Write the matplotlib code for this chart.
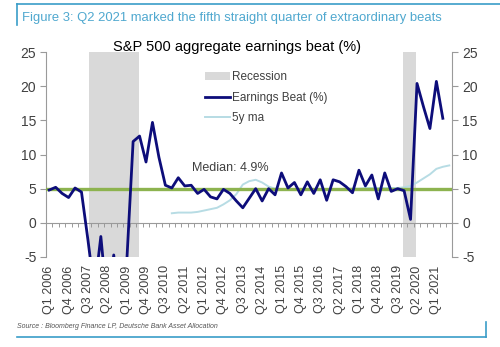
import numpy as np
import matplotlib
matplotlib.use("Agg")
import matplotlib.pyplot as plt
from matplotlib.lines import Line2D
from matplotlib.patches import Patch

plt.rcParams['font.family'] = ['Liberation Sans', 'DejaVu Sans']
plt.rcParams['axes.unicode_minus'] = False

# quarters Q1 2006 .. Q3 2021
quarters = [f"Q{q} {y}" for y in range(2006, 2022) for q in range(1, 5)][:63]

beat = [4.8, 5.2, 4.3, 3.7, 5.1, 4.5, -2.5, -10.0, -2.0, -12.0,
        -4.7, -15.0, -6.0, 11.9, 12.7, 8.9, 14.7, 9.6, 5.5, 5.1,
        6.6, 5.4, 5.5, 4.3, 4.9, 3.8, 3.5, 4.9, 4.3, 3.2,
        2.2, 3.6, 5.0, 3.2, 5.0, 4.1, 7.3, 5.1, 5.9, 4.1,
        6.0, 4.3, 6.3, 3.3, 6.3, 6.0, 5.3, 4.4, 7.7, 5.4,
        7.0, 3.5, 7.3, 4.6, 5.0, 4.7, 0.5, 20.4, 17.0, 13.8,
        20.7, 15.3, np.nan]

ma5 = [np.nan] * 19 + [
    1.4, 1.5, 1.5, 1.5, 1.6, 1.8, 2.0, 2.2, 2.7, 3.3,
    4.2, 5.6, 6.1, 6.3, 5.9, 5.3, 5.0, 4.9, 4.9, 4.8,
    4.8, 4.8, 4.9, 4.8, 4.8, 4.9, 4.9, 5.0, 5.0, 5.0,
    5.1, 5.1, 5.1, 5.1, 5.1, 5.1, 5.2, 5.4, 5.9, 6.5,
    7.1, 7.9, 8.2, 8.4]

median = 4.9
# recession spans in quarter units (Q4 2007 - Q2 2009, Q1 2020 - Q2 2020)
rec_start = [6.2, 54.9]
rec_end = [13.9, 56.8]

x = np.arange(len(quarters))

fig = plt.figure(figsize=(5, 3.47), dpi=100)
ax = fig.add_axes([0.092, 0.2594, 0.813, 0.5907])

for s, e in zip(rec_start, rec_end):
    ax.axvspan(s, e, color='#D9D9D9', lw=0, zorder=0)

ax.plot(x, ma5, color='#B7DCE4', lw=1.4, zorder=2)
ax.axhline(median, color='#8DB34F', lw=2.4, zorder=3)
ax.plot(x, beat, color='#0D0D7A', lw=2.0, zorder=4)

ax.set_xlim(-0.5, 62.5)
ax.set_ylim(-5, 25)

gray = '#9A9A9A'
ax.spines['top'].set_visible(False)
ax.spines['bottom'].set_position(('data', 0))
for sp in ['left', 'right', 'bottom']:
    ax.spines[sp].set_color(gray)
    ax.spines[sp].set_linewidth(0.8)

ax.set_yticks(range(-5, 30, 5))
ax.tick_params(axis='y', which='both', left=True, right=True,
               labelleft=True, labelright=True, direction='out',
               length=4, color=gray, labelsize=10, labelcolor='#404040', pad=3)
ax.set_xticks(np.arange(-0.5, 63, 1))
ax.set_xticklabels([])
ax.tick_params(axis='x', direction='out', length=3, color=gray, width=0.7)

sec = ax.secondary_xaxis('bottom')
sec.set_xticks(x[::3])
sec.set_xticklabels(quarters[::3], rotation=90)
sec.tick_params(length=0, pad=6, labelsize=9, labelcolor='#404040')
sec.spines['bottom'].set_visible(False)

ax.text(28, 8.0, f"Median: {median}%", ha='center', va='center',
        fontsize=9, color='#404040')

handles = [Patch(facecolor='#D9D9D9', edgecolor='none'),
           Line2D([], [], color='#0D0D7A', lw=2.0),
           Line2D([], [], color='#B7DCE4', lw=1.4)]
ax.legend(handles, ['Recession', 'Earnings Beat (%)', '5y ma'],
          loc='upper left', bbox_to_anchor=(0.391, 0.905), frameon=False,
          fontsize=8.5, handlelength=2.1, handletextpad=0.15,
          labelspacing=0.7, borderpad=0, borderaxespad=0,
          labelcolor='#404040')

fig.text(236.7 / 500, 1 - 47 / 347, "S&P 500 aggregate earnings beat (%)",
         ha='center', va='center', fontsize=10.5, color='black')

teal = '#3A9DC8'
fig.text(22 / 500, 1 - 18 / 347,
         "Figure 3: Q2 2021 marked the fifth straight quarter of extraordinary beats",
         ha='left', va='center', fontsize=9.4, color='#4FA8CF')
fig.add_artist(Line2D([17 / 500, 1.0], [1 - 4 / 347, 1 - 4 / 347],
                      color=teal, lw=1.2, transform=fig.transFigure))
fig.add_artist(Line2D([17 / 500, 17 / 500], [1 - 4 / 347, 1 - 25 / 347],
                      color=teal, lw=1.2, transform=fig.transFigure))

fig.text(17 / 500, 1 - 326.7 / 347,
         "Source : Bloomberg Finance LP, Deutsche Bank Asset Allocation",
         ha='left', va='center', fontsize=5, style='italic', color='#555555')
fig.add_artist(Line2D([17 / 500, 486 / 500], [1 - 337.3 / 347, 1 - 337.3 / 347],
                      color=teal, lw=1.2, transform=fig.transFigure))
fig.add_artist(Line2D([486 / 500, 486 / 500], [1 - 337.3 / 347, 1 - 321.7 / 347],
                      color=teal, lw=1.2, transform=fig.transFigure))

fig.savefig('out.png', dpi=100)
